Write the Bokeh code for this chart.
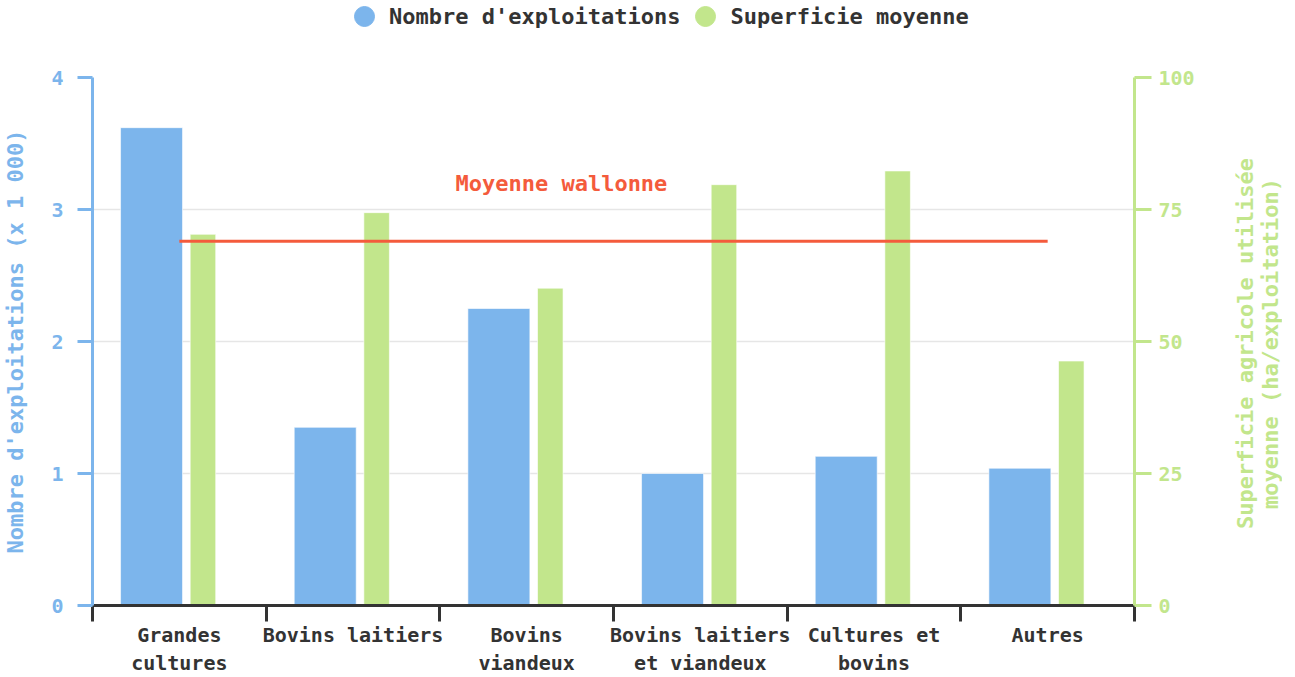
import numpy as np
from bokeh.plotting import figure
from bokeh.layouts import column, row
from bokeh.models import (Range1d, LinearAxis, FixedTicker, ColumnDataSource,
                          Legend, LegendItem, Label)
from bokeh.transform import dodge
from bokeh.embed import file_html
from bokeh.resources import INLINE

# ---- data ----
categories = ["Grandes\ncultures", "Bovins laitiers", "Bovins\nviandeux",
              "Bovins laitiers\net viandeux", "Cultures et\nbovins", "Autres"]
nombre_exploitations = [3.62, 1.35, 2.25, 1.00, 1.13, 1.04]      # x 1 000
superficie_moyenne = [70.3, 74.4, 60.1, 79.7, 82.3, 46.3]        # ha/exploitation
moyenne_wallonne = 69.0
left_ticks = [0, 1, 2, 3, 4]
right_ticks = [0, 25, 50, 75, 100]
series_names = ["Nombre d'exploitations", "Superficie moyenne"]
left_title = "Nombre d'exploitations (x 1 000)"
right_title = "Superficie agricole utilisée\nmoyenne (ha/exploitation)"
avg_label = "Moyenne wallonne"

# ---- styles ----
FONT = "DejaVu Sans Mono"
BIG = "22px"
SMALL = "20px"
BLUE = "#7cb5ec"
GREEN = "#c2e68c"
RED = "#f45b3c"
DARK = "#333333"
W = 1277
FRAME_W, FRAME_H = 1042, 528
TOP, LEFT, RIGHT = 45, 87, 68
MAIN_W = LEFT + FRAME_W + RIGHT
TITLE_W = W - MAIN_W
TITLE_H = 600

idx = np.arange(len(categories))
centers = idx + 0.5
src = ColumnDataSource(dict(x=centers, nb=nombre_exploitations, sup=superficie_moyenne))

# ---------- legend strip ----------
lg = figure(width=W, height=32, output_backend="svg", toolbar_location=None,
            x_range=Range1d(0, 1), y_range=Range1d(0, 1), min_border=0,
            x_axis_location=None, y_axis_location=None)
lg.outline_line_color = None
lg.xgrid.visible = False
lg.ygrid.visible = False
d1 = lg.scatter(x=[-5], y=[-5], marker="circle", size=20, fill_color=BLUE, line_color=BLUE)
d2 = lg.scatter(x=[-5], y=[-5], marker="circle", size=20, fill_color=GREEN, line_color=GREEN)
legend = Legend(items=[LegendItem(label=series_names[0], renderers=[d1]),
                       LegendItem(label=series_names[1], renderers=[d2])],
                orientation="horizontal", location=(339, -9),
                padding=0, margin=0, spacing=-47, label_standoff=-2,
                glyph_width=50, glyph_height=50,
                border_line_color=None, background_fill_alpha=0,
                label_text_font=FONT, label_text_font_style="bold",
                label_text_font_size=BIG, label_text_color=DARK)
lg.add_layout(legend, "center")

# ---------- main chart ----------
p = figure(width=MAIN_W, frame_width=FRAME_W, frame_height=FRAME_H, output_backend="svg",
           toolbar_location=None,
           x_range=Range1d(0, len(categories)), y_range=Range1d(0, 4),
           min_border_left=LEFT, min_border_top=TOP, min_border_right=RIGHT, min_border_bottom=20,
           x_axis_location=None, y_axis_location=None)
p.outline_line_color = None
p.extra_y_ranges = {"right": Range1d(0, 100)}

# bars
p.vbar(x=dodge("x", -0.16, range=p.x_range), top="nb", width=0.357, source=src,
       fill_color=BLUE, line_color="white", line_alpha=0.6, line_width=1)
p.vbar(x=dodge("x", 0.136, range=p.x_range), top="sup", width=0.147, source=src,
       y_range_name="right", fill_color=GREEN, line_color="white", line_alpha=0.6, line_width=1)

# average line
p.line(x=[centers[0], centers[-1]], y=[moyenne_wallonne, moyenne_wallonne], y_range_name="right",
       line_color=RED, line_width=3)
p.add_layout(Label(x=2.7, y=79.9, y_range_name="right", text=avg_label,
                   text_font=FONT, text_font_style="bold", text_font_size=BIG,
                   text_color=RED, text_align="center", text_baseline="middle"))

# x axis
xax = LinearAxis(ticker=FixedTicker(ticks=list(centers), minor_ticks=list(range(len(categories) + 1))),
                 major_label_overrides={float(c): lab for c, lab in zip(centers, categories)})
xax.major_tick_line_color = None
xax.major_tick_out = 0
xax.minor_tick_out = 16
xax.minor_tick_in = 0
xax.minor_tick_line_color = DARK
xax.minor_tick_line_width = 3
xax.axis_line_color = DARK
xax.axis_line_width = 3
xax.major_label_standoff = 1
xax.major_label_text_font = FONT
xax.major_label_text_font_style = "bold"
xax.major_label_text_font_size = SMALL
xax.major_label_text_color = DARK
p.add_layout(xax, "below")

# left axis
lax = LinearAxis(ticker=FixedTicker(ticks=left_ticks), axis_label=left_title)
lax.axis_line_color = BLUE
lax.axis_line_width = 3
lax.major_tick_line_color = BLUE
lax.major_tick_line_width = 3
lax.major_tick_out = 15
lax.major_tick_in = 0
lax.minor_tick_line_color = None
lax.major_label_standoff = 14
lax.major_label_text_font = FONT
lax.major_label_text_font_style = "bold"
lax.major_label_text_font_size = SMALL
lax.major_label_text_color = BLUE
lax.axis_label_text_font = FONT
lax.axis_label_text_font_style = "bold"
lax.axis_label_text_font_size = BIG
lax.axis_label_text_color = BLUE
lax.axis_label_standoff = 20
p.add_layout(lax, "left")

# right axis
rax = LinearAxis(y_range_name="right", ticker=FixedTicker(ticks=right_ticks))
rax.axis_line_color = GREEN
rax.axis_line_width = 3
rax.major_tick_line_color = GREEN
rax.major_tick_line_width = 3
rax.major_tick_out = 17
rax.major_tick_in = 0
rax.minor_tick_line_color = None
rax.major_label_standoff = 7
rax.major_label_text_font = FONT
rax.major_label_text_font_style = "bold"
rax.major_label_text_font_size = SMALL
rax.major_label_text_color = GREEN
p.add_layout(rax, "right")

# grid
p.xgrid.visible = False
p.ygrid.ticker = FixedTicker(ticks=left_ticks)
p.ygrid.grid_line_color = "#e6e6e6"
p.ygrid.grid_line_width = 1.5

# ---------- right-axis title strip (text reads bottom-to-top) ----------
rt = figure(width=TITLE_W, height=TITLE_H, output_backend="svg", toolbar_location=None,
            x_range=Range1d(0, 1), y_range=Range1d(0, 1), min_border=0,
            x_axis_location=None, y_axis_location=None)
rt.outline_line_color = None
rt.xgrid.visible = False
rt.ygrid.visible = False
rt.add_layout(Label(x=TITLE_W - 25, y=TITLE_H - (TOP + FRAME_H / 2) - 75,
                    x_units="screen", y_units="screen",
                    text=right_title, angle=float(np.pi / 2), text_font=FONT,
                    text_font_style="bold", text_font_size=BIG, text_color=GREEN,
                    text_align="center", text_baseline="middle", text_line_height=1.0))

layout = column(lg, row(p, rt, spacing=0), spacing=0)
open("out.html", "w").write(file_html(layout, INLINE))
